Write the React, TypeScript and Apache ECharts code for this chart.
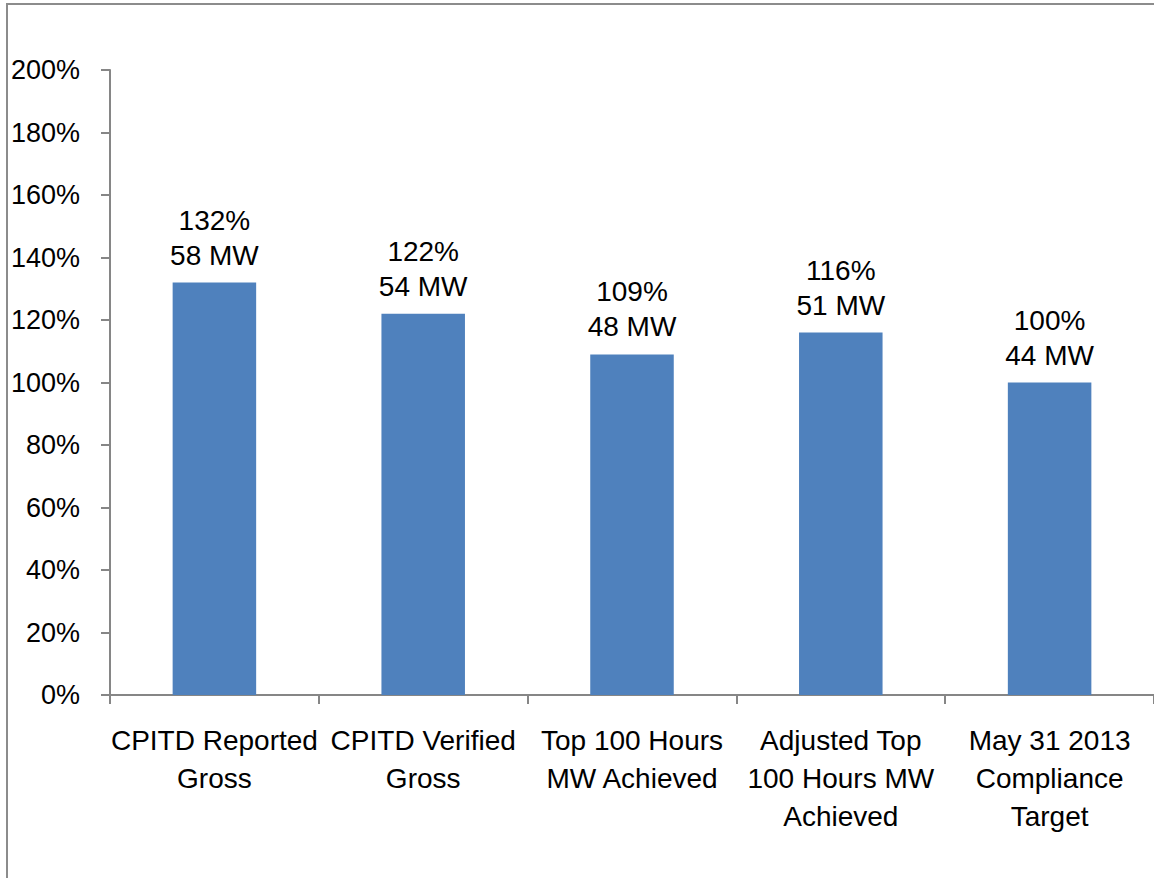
import React, { useEffect, useRef } from "react";
import * as echarts from "echarts";

const categories = [
  "CPITD Reported\nGross",
  "CPITD Verified\nGross",
  "Top 100 Hours\nMW Achieved",
  "Adjusted Top\n100 Hours MW\nAchieved",
  "May 31 2013\nCompliance\nTarget",
];
const percentValues = [132, 122, 109, 116, 100];
const mwValues = [58, 54, 48, 51, 44];
const yTicks = { min: 0, max: 200, interval: 20 };

const FONT = "Liberation Sans";
const AXIS_COLOR = "#868686";

export default function App() {
  const ref = useRef<HTMLDivElement>(null);
  useEffect(() => {
    if (!ref.current) return;
    const chart = echarts.init(ref.current, null, { renderer: "svg" });
    chart.setOption({
      animation: false,
      backgroundColor: "#ffffff",
      textStyle: { fontFamily: FONT },
      graphic: [
        {
          type: "rect",
          shape: { x: 7, y: 4, width: 1200, height: 1000 },
          style: { fill: "none", stroke: "#8c8c8c", lineWidth: 2 },
          silent: true,
        },
      ],
      grid: { left: 110, top: 70, right: -6, bottom: 183, containLabel: false },
      xAxis: {
        type: "category",
        data: categories,
        axisLine: { show: true, lineStyle: { color: AXIS_COLOR, width: 2 } },
        axisTick: { show: true, length: 9, lineStyle: { color: AXIS_COLOR, width: 2 } },
        axisLabel: {
          interval: 0,
          color: "#000",
          fontFamily: FONT,
          fontSize: 28,
          lineHeight: 38,
          margin: 26,
        },
      },
      yAxis: {
        type: "value",
        min: yTicks.min,
        max: yTicks.max,
        interval: yTicks.interval,
        splitLine: { show: false },
        axisLine: { show: true, lineStyle: { color: AXIS_COLOR, width: 2 } },
        axisTick: { show: true, length: 9, lineStyle: { color: AXIS_COLOR, width: 2 } },
        axisLabel: {
          color: "#000",
          fontFamily: FONT,
          fontSize: 27,
          margin: 30,
          formatter: "{value}%",
        },
      },
      series: [
        {
          type: "bar",
          data: percentValues,
          barWidth: "40%",
          itemStyle: { color: "#4F81BD" },
          label: {
            show: true,
            position: "top",
            distance: 10,
            color: "#000",
            fontFamily: FONT,
            fontSize: 28,
            lineHeight: 35,
            formatter: (p: any) => `${percentValues[p.dataIndex]}%\n${mwValues[p.dataIndex]} MW`,
          },
        },
      ],
    });
    return () => chart.dispose();
  }, []);
  return (
    <div
      ref={ref}
      style={{ position: "absolute", left: 0, top: 0, width: 1154, height: 878 }}
    />
  );
}
